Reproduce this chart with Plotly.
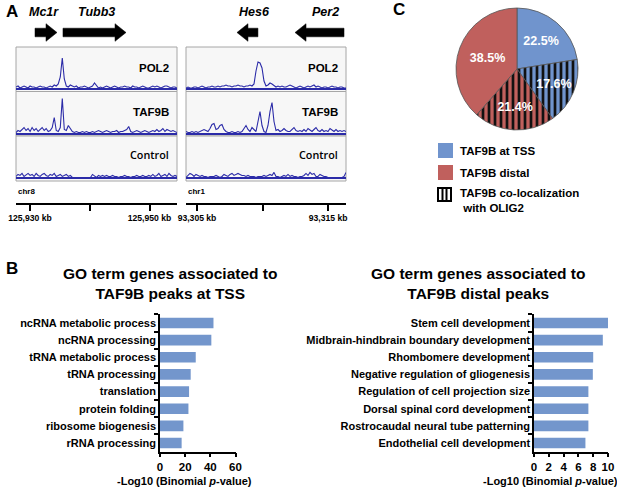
import numpy as np
import plotly.graph_objects as go

W, H = 617, 489
FONT = "Liberation Sans, Arial, sans-serif"
TRACK_BLUE = "#2b2ba8"
BAR_BLUE = "#7396cc"
PIE_BLUE = "#7094cd"
PIE_RED = "#c0605d"

# ---------------------------------------------------------------------------
# Panel A: genome browser tracks (signal heights).
# ---------------------------------------------------------------------------
TRACK_NAMES = ["POL2", "TAF9B", "Control"]

LEFT_CHR = "chr8"
LEFT_RANGE_KB = (125927.66, 125954.6)
LEFT_TICKS_KB = [125930, 125940, 125950]
LEFT_TICK_TEXT = ["125,930 kb", "", "125,950 kb"]

RIGHT_CHR = "chr1"
RIGHT_RANGE_KB = (93304.16, 93316.37)
RIGHT_TICKS_KB = [93305, 93310, 93315]
RIGHT_TICK_TEXT = ["93,305 kb", "", "93,315 kb"]

POL2_LEFT = [2, 3, 1, 2, 3, 2, 1, 3, 2, 2, 1, 2, 3, 2, 2, 1, 2, 3, 2, 4,
             3, 5, 12, 31, 10, 3, 2, 4, 3, 2, 3, 1, 2, 2, 3, 2, 1, 2, 3, 6,
             3, 1, 2, 1, 2, 3, 2, 1, 2, 3, 2, 1, 2, 2, 3, 2, 2, 1, 3, 2,
             2, 1, 2, 3, 2, 1, 1, 2, 3, 2, 3, 2, 1, 2, 3, 3, 2, 1, 2, 2, 1]
TAF9B_LEFT = [1, 3, 2, 4, 6, 3, 5, 2, 6, 3, 5, 2, 4, 6, 3, 5, 2, 3, 6, 16,
              3, 2, 6, 35, 4, 3, 8, 5, 2, 1, 2, 1, 1, 2, 1, 2, 1, 1, 2, 1,
              2, 3, 2, 1, 2, 3, 2, 1, 2, 2, 3, 1, 2, 2, 3, 4, 7, 2, 1, 2,
              3, 2, 1, 2, 3, 2, 1, 2, 3, 2, 4, 2, 3, 5, 2, 4, 3, 2, 3, 2, 1]
CONTROL_LEFT = [2, 4, 3, 5, 2, 4, 5, 3, 4, 2, 5, 3, 2, 4, 5, 3, 2, 4, 3, 5,
                2, 3, 4, 2, 3, 4, 2, 3, 1, 1, 1, 1, 1, 1, 1, 1, 1, 1, 4, 2,
                1, 3, 2, 3, 2, 3, 2, 2, 3, 2, 2, 1, 2, 2, 3, 2, 2, 1, 2, 2,
                3, 2, 2, 3, 2, 2, 3, 2, 4, 2, 3, 5, 2, 3, 4, 2, 5, 3, 2, 3, 2]

POL2_RIGHT = [1, 2, 1, 1, 2, 2, 1, 2, 3, 2, 1, 2, 2, 3, 2, 2, 3, 2, 3, 3,
              4, 3, 3, 2, 3, 3, 4, 3, 3, 2, 3, 3, 4, 3, 5, 18, 27, 26, 21, 8,
              3, 4, 6, 5, 3, 2, 3, 2, 3, 2, 2, 3, 4, 3, 2, 1, 2, 3, 2, 1,
              2, 3, 2, 3, 4, 2, 3, 2, 1, 2, 2, 1, 2, 3, 2, 2, 1, 2, 2, 1, 1]
TAF9B_RIGHT = [2, 1, 1, 2, 1, 2, 1, 2, 3, 4, 3, 2, 5, 9, 10, 4, 5, 8, 9, 4,
               2, 1, 1, 2, 1, 1, 2, 1, 2, 5, 8, 4, 2, 6, 4, 2, 12, 22, 8, 2,
               1, 8, 22, 31, 12, 3, 4, 2, 3, 5, 3, 2, 2, 4, 6, 3, 2, 3, 2, 4,
               2, 5, 3, 2, 4, 6, 3, 2, 4, 2, 3, 2, 5, 3, 2, 4, 2, 3, 2, 3, 2]
CONTROL_RIGHT = [1, 3, 5, 4, 2, 4, 3, 2, 3, 2, 2, 1, 2, 2, 2, 3, 2, 1, 2, 4,
                 3, 2, 4, 5, 3, 4, 5, 4, 3, 3, 2, 3, 2, 2, 2, 1, 2, 2, 2, 3,
                 2, 3, 4, 3, 6, 2, 2, 1, 2, 3, 2, 4, 2, 3, 2, 2, 1, 2, 2, 3,
                 5, 3, 6, 4, 5, 2, 2, 4, 3, 2, 2, 1, 1, 1, 1, 1, 1, 1, 1, 2, 6]

# name, start kb, end kb, strand, label position kb
LEFT_GENES = [("Mc1r", 125930.84, 125934.52, 1, 125932.4),
              ("Tubb3", 125935.52, 125946.07, 1, 125941.2)]
RIGHT_GENES = [("Hes6", 93308.05, 93309.65, -1, 93309.35),
               ("Per2", 93312.48, 93316.22, -1, 93314.77)]

# ---------------------------------------------------------------------------
# Panel B: GO term enrichment.
# ---------------------------------------------------------------------------
TSS_TERMS = ["ncRNA metabolic process", "ncRNA processing", "tRNA metabolic process",
             "tRNA processing", "translation", "protein folding",
             "ribosome biogenesis", "rRNA processing"]
TSS_VALUES = [42.5, 40.8, 28.4, 24.4, 23.1, 22.6, 18.6, 17.2]

DISTAL_TERMS = ["Stem cell development", "Midbrain-hindbrain boundary development",
                "Rhombomere development", "Negative regulation of gliogenesis",
                "Regulation of cell projection size", "Dorsal spinal cord development",
                "Rostrocaudal neural tube patterning", "Endothelial cell development"]
DISTAL_VALUES = [10.0, 9.3, 8.0, 7.95, 7.35, 7.35, 7.35, 6.95]

# ---------------------------------------------------------------------------
# Panel C: peak categories.
# ---------------------------------------------------------------------------
PIE_LABELS = ["TSS", "TSS + OLIG2", "distal + OLIG2", "distal"]
PIE_VALUES = [22.5, 17.6, 21.4, 38.5]
PIE_COLORS = [PIE_BLUE, PIE_BLUE, PIE_RED, PIE_RED]
PIE_PATTERNS = ["", "|", "|", ""]
LEGEND_TEXT = ["TAF9B at TSS", "TAF9B distal", "TAF9B co-localization<br> with OLIG2"]


def px(x):
    return x / W


def py(y):
    return 1 - y / H


def bold(size, color="black", family=FONT, **kw):
    return dict(family=family, size=size, color=color, weight="bold", **kw)


fig = go.Figure()
layout_axes = {}
shapes = []
annotations = []

# Track rows (pixel top/bottom) and column spans.
ROWS = [(47, 91.5), (91.5, 136), (136, 181)]
COLUMNS = [
    dict(x0=16, x1=177, rng=LEFT_RANGE_KB, tracks=[POL2_LEFT, TAF9B_LEFT, CONTROL_LEFT],
         ticks=LEFT_TICKS_KB, ticktext=LEFT_TICK_TEXT, chrom=LEFT_CHR, genes=LEFT_GENES,
         label_x=171),
    dict(x0=186, x1=346, rng=RIGHT_RANGE_KB, tracks=[POL2_RIGHT, TAF9B_RIGHT, CONTROL_RIGHT],
         ticks=RIGHT_TICKS_KB, ticktext=RIGHT_TICK_TEXT, chrom=RIGHT_CHR, genes=RIGHT_GENES,
         label_x=340),
]
LABEL_Y = [68, 112, 154]

k = 0
for col in COLUMNS:
    lo, hi = col["rng"]
    for r, (signal, (top, bottom)) in enumerate(zip(col["tracks"], ROWS)):
        k += 1
        xs = np.linspace(lo, hi, len(signal))
        fig.add_trace(go.Scatter(
            x=xs, y=signal, mode="lines", xaxis=f"x{k}", yaxis=f"y{k}",
            line=dict(color=TRACK_BLUE, width=1.1), showlegend=False, hoverinfo="skip",
        ))
        xa = dict(domain=[px(col["x0"]), px(col["x1"])], range=[lo, hi],
                  showgrid=False, zeroline=False, anchor=f"y{k}", automargin=False)
        if r == 2:
            # bottom track's axis doubles as the scale bar below the box
            xa.update(anchor="free", position=py(204), showline=True, linecolor="black",
                      linewidth=1.5, ticks="outside", ticklen=6, tickwidth=1.5,
                      tickcolor="black", tickvals=col["ticks"], ticktext=col["ticktext"],
                      tickfont=bold(8.6))
        else:
            xa.update(showticklabels=False, ticks="", showline=False)
        layout_axes[f"xaxis{k}"] = xa
        layout_axes[f"yaxis{k}"] = dict(
            domain=[py(bottom), py(top)], range=[-2.5, 42], anchor=f"x{k}",
            showgrid=False, showticklabels=False, ticks="", showline=False,
            zeroline=True, zerolinecolor=TRACK_BLUE, zerolinewidth=1.5, automargin=False,
        )
        ref = "" if k == 1 else str(k)
        shapes.append(dict(type="rect", xref=f"x{ref} domain", yref=f"y{ref} domain",
                           x0=0, x1=1, y0=0, y1=1, fillcolor="#f7f7f7",
                           line=dict(color="#a6a6a6", width=1), layer="below"))
        name = TRACK_NAMES[r]
        annotations.append(dict(
            x=px(col["label_x"]), y=py(LABEL_Y[r]), xref="paper", yref="paper",
            text=name, showarrow=False, xanchor="right", yanchor="middle",
            font=bold(11.5) if name != "Control" else dict(family="Open Sans, " + FONT,
                                                            size=10.8, color="black",
                                                            weight=600),
        ))
    # chromosome label
    annotations.append(dict(x=px(col["x0"]), y=py(192), xref="paper", yref="paper",
                            text=col["chrom"], showarrow=False, xanchor="left",
                            yanchor="middle", font=bold(8)))
    # gene arrows drawn in genomic coordinates of the top track
    xref = f"x{k - 2}" if k - 2 > 1 else "x"
    head = 11 * (hi - lo) / (col["x1"] - col["x0"])
    yc, hb, hh = py(32.5), 4.3 / H, 8.8 / H
    for gname, g0, g1, strand, lab in col["genes"]:
        if strand > 0:
            pts = [(g0, yc + hb), (g1 - head, yc + hb), (g1 - head, yc + hh), (g1, yc),
                   (g1 - head, yc - hh), (g1 - head, yc - hb), (g0, yc - hb)]
        else:
            pts = [(g1, yc + hb), (g0 + head, yc + hb), (g0 + head, yc + hh), (g0, yc),
                   (g0 + head, yc - hh), (g0 + head, yc - hb), (g1, yc - hb)]
        path = "M " + " L ".join(f"{a},{b}" for a, b in pts) + " Z"
        shapes.append(dict(type="path", xref=xref, yref="paper", path=path,
                           fillcolor="black", line=dict(color="black", width=0.5)))
        annotations.append(dict(x=lab, y=py(12), xref=xref, yref="paper",
                                text=f"<i>{gname}</i>", showarrow=False,
                                xanchor="center", yanchor="middle", font=bold(12.5)))

# ---------------------------------------------------------------------------
# Panel B bar charts.
# ---------------------------------------------------------------------------
BAR_Y_DOMAIN = [py(451.6), py(314.4)]
for axn, terms, vals, x0, x1, xmax, tickv in [
    (7, TSS_TERMS, TSS_VALUES, 160, 235.5, 60, [0, 20, 40, 60]),
    (8, DISTAL_TERMS, DISTAL_VALUES, 534, 608, 10, [0, 2, 4, 6, 8, 10]),
]:
    fig.add_trace(go.Bar(
        x=vals, y=terms, orientation="h", xaxis=f"x{axn}", yaxis=f"y{axn}",
        marker=dict(color=BAR_BLUE, line=dict(width=0)), width=0.62,
        showlegend=False, hoverinfo="skip",
    ))
    layout_axes[f"xaxis{axn}"] = dict(
        domain=[px(x0), px(x1)], range=[0, xmax], anchor=f"y{axn}", automargin=False,
        showline=True, linecolor="black", linewidth=1.5, ticks="outside", ticklen=4,
        tickwidth=1.5, tickcolor="black", tickvals=tickv, tickfont=bold(11.5),
        showgrid=False, zeroline=False,
    )
    layout_axes[f"yaxis{axn}"] = dict(
        domain=BAR_Y_DOMAIN, anchor=f"x{axn}", autorange="reversed", type="category",
        showline=True, linecolor="black", linewidth=1.5, ticks="outside", ticklen=4,
        tickwidth=1.5, tickcolor="black", tickson="boundaries", tickfont=bold(11),
        showgrid=False, zeroline=False, automargin=False,
    )

for cx, line2 in [(170, "TAF9B peaks at TSS"), (478, "TAF9B distal peaks")]:
    annotations.append(dict(x=px(cx), y=py(283), xref="paper", yref="paper",
                            text=f"GO term genes associated to<br>{line2}",
                            showarrow=False, xanchor="center", yanchor="middle",
                            font=bold(15.5)))
for cx in (184, 550):
    annotations.append(dict(x=px(cx), y=py(481), xref="paper", yref="paper",
                            text="-Log10 (Binomial <i>p</i>-value)", showarrow=False,
                            xanchor="center", yanchor="middle", font=bold(11)))

# ---------------------------------------------------------------------------
# Panel C pie + hand-drawn legend.
# ---------------------------------------------------------------------------
fig.add_trace(go.Pie(
    values=PIE_VALUES, labels=PIE_LABELS, sort=False, direction="clockwise", rotation=0,
    domain=dict(x=[px(456), px(578)], y=[py(130), py(8)]),
    marker=dict(colors=PIE_COLORS, line=dict(color="#555555", width=0.8),
                pattern=dict(shape=PIE_PATTERNS, fgcolor="#111111", bgcolor=PIE_COLORS,
                             size=6, solidity=0.45, fillmode="replace")),
    texttemplate="%{value:.1f}%", textposition="inside", insidetextorientation="horizontal",
    textfont=bold(12.5, "white"), showlegend=False, hoverinfo="skip",
))

LEG_Y = [(143, 158), (165, 180), (188, 201)]
for (t, b), fill in zip(LEG_Y[:2], [PIE_BLUE, PIE_RED]):
    shapes.append(dict(type="rect", xref="paper", yref="paper", x0=px(438), x1=px(453),
                       y0=py(b), y1=py(t), fillcolor=fill, line=dict(width=0)))
t, b = LEG_Y[2]
shapes.append(dict(type="rect", xref="paper", yref="paper", x0=px(438), x1=px(451),
                   y0=py(b), y1=py(t), fillcolor="white", line=dict(color="black", width=2)))
for lx in (442.5, 446.5):
    shapes.append(dict(type="line", xref="paper", yref="paper", x0=px(lx), x1=px(lx),
                       y0=py(b), y1=py(t), line=dict(color="black", width=2)))
for (t, b), text, ty in zip(LEG_Y, LEGEND_TEXT, [151, 173, 200]):
    annotations.append(dict(x=px(458), y=py(ty), xref="paper", yref="paper", text=text,
                            showarrow=False, xanchor="left", yanchor="middle",
                            align="left", font=bold(11.5)))

# panel letters
for letter, lx, ly in [("A", 4, 12), ("B", 4, 268), ("C", 391, 10)]:
    annotations.append(dict(x=px(lx), y=py(ly), xref="paper", yref="paper", text=letter,
                            showarrow=False, xanchor="left", yanchor="middle",
                            font=bold(17)))

fig.update_layout(
    width=W, height=H, margin=dict(l=0, r=0, t=0, b=0, autoexpand=False),
    paper_bgcolor="white", plot_bgcolor="rgba(0,0,0,0)",
    font=dict(family=FONT, color="black"),
    shapes=shapes, annotations=annotations, showlegend=False,
    **layout_axes,
)
# the page's default 8px body margin would push the figure off its frame
fig.write_html("out.html", config={"displayModeBar": False},
               post_script="document.body.style.margin = '0';")
